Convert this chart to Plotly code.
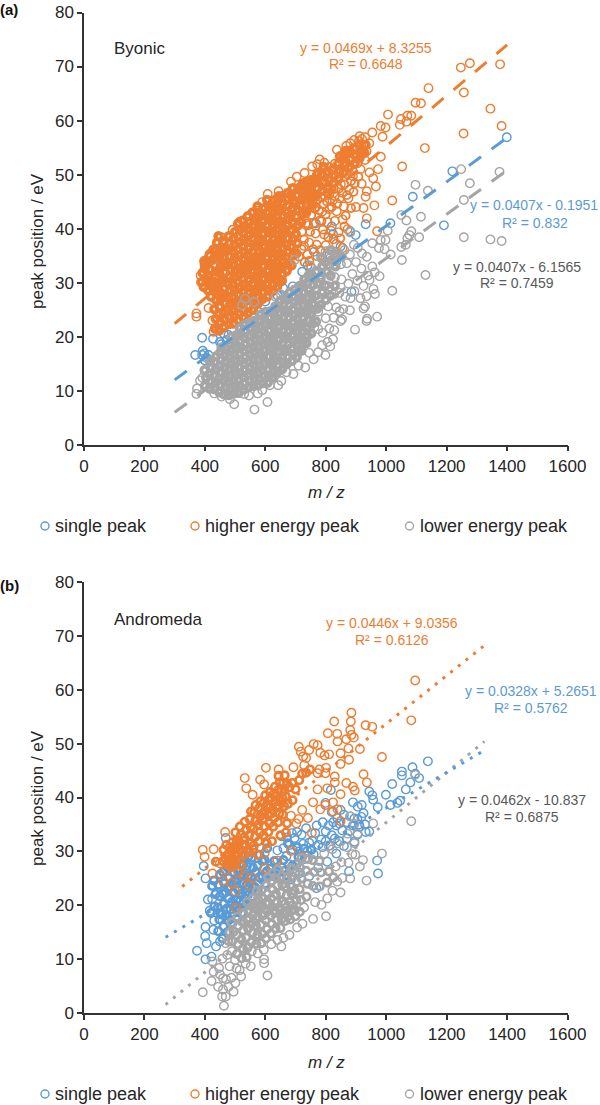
import plotly.graph_objects as go

BLUE, ORANGE, GREY = "#5B9BD5", "#ED7D31", "#A5A5A5"

# ---------- panel (a) Byonic: (m/z, eV) ----------
a_single = [(368,16.6),(391,19.8),(427,19.6),(393,17.4),(391,16.6),(406,16.1),(400,15.6),(412,16.6),(398,16.9),(450,19),(462,20.6),(478,20.3),(455,18.6),(463,18.1),(472,19.4),(885,28.3),(577,24.6),(1399,56.9),(1219,50.6),(1088,45.9),(1191,40.6),(1014,41),(932,40.8),(881,39.5),(899,38.8),(767,41),(820,40.4),(824,39),(849,36.7),(761,35.7),(812,35.2),(722,32),(653,30.2),(691,29.3),(659,29),(558,22.4),(740,33.2),(790,34.4),(835,33.9),(530,21.3),(600,26.5),(640,27.6)]

a_higher_sparse = [(1277,70.6),(1247,69.8),(1377,70.4),(1257,65.2),(1140,66),(1097,63.3),(1115,63.2),(1345,62.2),(1006,61.1),(1049,60.3),(1070,60.9),(1083,60.9),(1067,59.8),(1045,59.2),(982,59),(998,58.7),(988,57),(1382,59),(1256,57.6),(954,57.8),(1128,54.9),(982,53.3),(1053,51.5),(973,51),(945,50.4),(957,49.3),(919,48.3),(966,47.8),(936,46.9),(932,45.9),(875,45.6),(1020,45.2),(961,44.3),(900,44),(925,43.8),(936,41.9),(970,39.5),
(837,54.6),(881,55.8),(912,57.1),(930,56.9),(944,55.8),(894,56.4),(868,55.3),(918,53.9),(905,55.1),(925,55.4),(935,54.3),(890,54.8),(910,56.2),(920,56.6),(780,52.8),(755,51.5),(704,49.6),(685,48.7),(644,46.9),(608,46.4),(590,44.9),(574,43.3),(516,41.3),(492,39.8),(454,38.4),(457,36.4),(416,35.3),(399,33.4),(386,31.3),(422,29.3),(372,24.3),(372,23.7),(412,25.3),(425,23),(429,20.9),
(730,50.3),(772,51.9),(795,52.2),(812,51.4),(830,52),(850,53.1),(866,52.4),(885,52.8),(905,52.1),(930,52.7),(845,50.6),(868,50.1),(890,49.7),(915,51),(818,49.6),(795,50.2),(770,49.8),(752,49),(738,47.9),(776,47.6),(802,48.1),(826,47.3),(850,48.2),(878,47.2),(846,45.6),(822,45.1),(798,46.1),(772,45.3),(746,46.3),(812,43.6),(836,43.2),(860,44.1),(788,43.1),(762,43.7),(830,41.4),(806,41.2),(780,41.5),(856,41.7),(872,39.9),(842,39.3),(818,39.6),(795,38.9),(766,39.1),(742,40.6),(745,37.4),(770,37),(800,36.9),(835,37.2),(856,36.4),(740,35.2),(772,34.9),(812,33.5),(838,34.6),(752,32.8),(728,36.8),(720,39.4)]

a_higher_mid = [(728,38),(736,41),(748,39.4),(752,42.5),(760,41),(756,44.8),(768,44),(778,43.4),(786,41.4),(784,45.8),(792,44.5),(804,45),(800,42.6),(812,46.4),(820,44),(830,46),(838,44.6),(844,47.4),(856,46.6),(862,48.2),(870,46.2),(884,48.8),(896,48.4),(908,49.6),(720,36.2),(712,34.8),(730,33.8),(746,34),(758,36.2),(782,36),(790,39.8),(808,38.4),(826,38),(848,38.2),(866,42.4),(884,43.8),(892,46.8),(862,40.4)]

a_higher_dense = [(388,30.1),(392,31.8),(396,29.2),(400,32.6),(404,30.6),(398,34),(410,28.6),(412,31.1),(408,33.5),(415,35),(420,27.4),(422,30),(418,32.4),(425,34.2),(428,36.1),(440,37.4),(432,34.6),(436,36),(445,38.6),
(433,21.5),(436,23.3),(431,25.1),(437,26.8),(434,28.4),(430,30.2),(436,32.1),(447,21.1),(451,22.6),(446,24.2),(449,25.5),(452,27.1),(445,28.6),(450,30.1),(447,31.8),(453,33.2),(448,34.9),(451,36.2),
(463,21.8),(466,23.1),(461,24.6),(468,26.2),(462,27.4),(465,29),(460,30.3),(467,31.9),(464,33.4),(461,34.7),(466,36.1),(462,37.6),(479,22.3),(482,23.6),(477,24.9),(484,26.1),(478,27.3),(483,28.5),(476,29.8),(481,31.1),(485,32.3),(478,33.5),(483,34.8),(477,36),(482,37.3),(479,38.6),
(495,22.4),(498,23.8),(493,25),(500,26.2),(494,27.4),(499,28.6),(492,29.8),(497,31),(501,32.2),(494,33.4),(499,34.6),(493,35.8),(498,37),(495,38.2),(500,39.4),(511,23),(514,24.2),(509,25.4),(516,26.6),(510,27.8),(515,29),(508,30.2),(513,31.4),(517,32.6),(510,33.8),(515,35),(509,36.2),(514,37.4),(511,38.6),(516,39.8),(510,40.9),
(527,23.6),(530,24.8),(525,26),(532,27.2),(526,28.4),(531,29.6),(524,30.8),(529,32),(533,33.2),(526,34.4),(531,35.6),(525,36.8),(530,38),(527,39.2),(532,40.4),(526,41.5),(543,24.4),(546,25.6),(541,26.8),(548,28),(542,29.2),(547,30.4),(540,31.6),(545,32.8),(549,34),(542,35.2),(547,36.4),(541,37.6),(546,38.8),(543,40),(548,41.2),(542,42.3),
(559,25),(562,26.2),(557,27.4),(564,28.6),(558,29.8),(563,31),(556,32.2),(561,33.4),(565,34.6),(558,35.8),(563,37),(557,38.2),(562,39.4),(559,40.6),(564,41.8),(558,43),(575,26.1),(578,27.3),(573,28.5),(580,29.7),(574,30.9),(579,32.1),(572,33.3),(577,34.5),(581,35.7),(574,36.9),(579,38.1),(573,39.3),(578,40.5),(575,41.7),(580,42.9),(574,44.1),
(591,27),(594,28.2),(589,29.4),(596,30.6),(590,31.8),(595,33),(588,34.2),(593,35.4),(597,36.6),(590,37.8),(595,39),(589,40.2),(594,41.4),(591,42.6),(596,43.8),(607,27.4),(610,28.6),(605,29.8),(612,31),(606,32.2),(611,33.4),(604,34.6),(609,35.8),(613,37),(606,38.2),(611,39.4),(605,40.6),(610,41.8),(607,43),(612,44.2),(606,45.3),
(623,28.4),(626,29.6),(621,30.8),(628,32),(622,33.2),(627,34.4),(620,35.6),(625,36.8),(629,38),(622,39.2),(627,40.4),(621,41.6),(626,42.8),(623,44),(628,45.2),(639,29.2),(642,30.4),(637,31.6),(644,32.8),(638,34),(643,35.2),(636,36.4),(641,37.6),(645,38.8),(638,40),(643,41.2),(637,42.4),(642,43.6),(639,44.8),(644,46),
(655,30.4),(658,31.6),(653,32.8),(660,34),(654,35.2),(659,36.4),(652,37.6),(657,38.8),(661,40),(654,41.2),(659,42.4),(653,43.6),(658,44.8),(655,46),(671,32.2),(674,33.4),(669,34.6),(676,35.8),(670,37),(675,38.2),(668,39.4),(673,40.6),(677,41.8),(670,43),(675,44.2),(669,45.4),(674,46.6),
(687,33.2),(690,35),(685,36.6),(692,38.1),(686,39.6),(691,41),(684,42.4),(689,43.7),(693,45),(686,46.3),(691,47.5),(703,35.4),(706,37.3),(701,39),(708,40.6),(702,42.2),(707,43.5),(700,44.9),(705,46.2),(709,47.5),(719,41.2),(722,42.8),(717,44.2),(724,45.6),(718,47),(723,48.3),(735,42.9),(738,44.4),(733,45.8),(740,47.1),(734,48.6),
(752,44.4),(756,46),(751,47.5),(757,49),(768,46),(772,47.4),(767,48.8),(773,50.2),(788,47),(792,48.6),(787,50),(793,51.4),(808,47.4),(812,49),(807,50.4),(825,48.4),(829,49.8),(824,51),(842,49.2),(846,50.6),(841,52),(847,53.4),(860,50.4),(864,51.8),(859,53.2),(865,54.4),(878,51.4),(882,52.8),(877,54.2),(895,52),(899,53.4),(894,54.8),(912,53),(916,54.4),(911,55.6),(928,54),(932,55.5)]

a_lower_sparse = [(1375,50.5),(1248,51),(1097,48.1),(1138,47),(1277,48.4),(1257,45.3),(1050,42.5),(1067,41.5),(1115,42.2),(1257,38.4),(1345,38),(1382,37.7),(1130,31.4),(1052,34.2),(1050,36.6),(1065,37),(1083,39.5),(1077,38.8),(1070,38.2),(1109,38.4),(1005,39.6),(998,37.9),(982,37.9),(995,36.2),(1015,35.2),(976,36.4),(954,37.3),(881,39.3),(893,37),(1020,28.5),(963,27.9),(925,25.2),(970,23.7),(935,22.9),(937,23.3),(897,21.3),(849,22.9),(854,23.2),
(374,10.4),(372,9.4),(431,9.5),(483,8.4),(497,7.5),(564,6.5),(607,7.9),(643,11),(653,11.8),(693,13.1),(732,14.3),(760,15.8),(799,16.6),(824,19.5),(828,21.2),(384,11.9),(392,12.4),(455,8.9),(530,9.4),(546,9.1),(575,9.5),(590,10.1),(615,11),(670,13.4),(710,14.6),(745,17),(775,17.1),(788,18.4),(806,19),(815,18.2),(790,20.7),(812,21.5),(775,21.4),
(697,34.2),(533,27),(523,25.8),(564,26.4),(634,27.4),(652,27.8),(800,35.8),(826,33.3),(840,35.5),(862,36),(880,35.2),(906,36.4),(920,35.4),(936,34.8),(954,33),(962,31.9),(978,31.2),(900,33.8),(918,32.6),(940,31.3),(870,33.6),(850,33.4),(888,31.6),(905,30.4),(925,29.4),(945,30.5),(958,28.8),(830,31),(852,30.6),(875,29.8),(895,28.4),(915,27.1),(935,27.5),(930,25.6),(865,27.4),(882,27.1),(845,28.1),(828,27.9),(812,29.3),(808,25.6),(835,25.4),(858,25.1),(880,24.9),(790,27.8),(775,24.6),(800,23.4),(826,23.5),(846,24.7),(762,21.7),(780,30),(770,32.2),(748,33.2)]

a_lower_dense = [(400,10.9),(404,12.4),(399,13.8),(416,10.4),(420,11.7),(415,13),(421,14.3),(417,15.4),(432,10.3),(436,11.6),(431,12.8),(437,14),(433,15.2),(438,16.4),(448,9.7),(452,11),(447,12.2),(453,13.4),(449,14.6),(454,15.8),(450,17),(455,18),
(464,9.3),(468,10.6),(463,11.8),(469,13),(465,14.2),(470,15.4),(466,16.6),(471,17.8),(480,9.2),(484,10.4),(479,11.6),(485,12.8),(481,14),(486,15.2),(482,16.4),(487,17.6),(483,18.8),(488,20),(496,9.5),(500,10.7),(495,11.9),(501,13.1),(497,14.3),(502,15.5),(498,16.7),(503,17.9),(499,19.1),(504,20.3),
(512,9.6),(516,10.8),(511,12),(517,13.2),(513,14.4),(518,15.6),(514,16.8),(519,18),(515,19.2),(520,20.4),(516,21.6),(528,10.2),(532,11.4),(527,12.6),(533,13.8),(529,15),(534,16.2),(530,17.4),(535,18.6),(531,19.8),(536,21),(532,22.2),(544,10.6),(548,11.8),(543,13),(549,14.2),(545,15.4),(550,16.6),(546,17.8),(551,19),(547,20.2),(552,21.4),(548,22.6),
(560,10.9),(564,12.1),(559,13.3),(565,14.5),(561,15.7),(566,16.9),(562,18.1),(567,19.3),(563,20.5),(568,21.7),(564,22.9),(576,11),(580,12.2),(575,13.4),(581,14.6),(577,15.8),(582,17),(578,18.2),(583,19.4),(579,20.6),(584,21.8),(580,23),(585,24.1),(592,11.4),(596,12.6),(591,13.8),(597,15),(593,16.2),(598,17.4),(594,18.6),(599,19.8),(595,21),(600,22.2),(596,23.4),(601,24.6),
(608,11.5),(612,12.7),(607,13.9),(613,15.1),(609,16.3),(614,17.5),(610,18.7),(615,19.9),(611,21.1),(616,22.3),(612,23.5),(617,24.7),(624,12.4),(628,13.6),(623,14.8),(629,16),(625,17.2),(630,18.4),(626,19.6),(631,20.8),(627,22),(632,23.2),(628,24.4),(633,25.6),(640,13.4),(644,14.6),(639,15.8),(645,17),(641,18.2),(646,19.4),(642,20.6),(647,21.8),(643,23),(648,24.2),(644,25.4),(649,26.6),
(656,14),(660,15.2),(655,16.4),(661,17.6),(657,18.8),(662,20),(658,21.2),(663,22.4),(659,23.6),(664,24.8),(660,26),(665,27.2),(672,15),(676,16.2),(671,17.4),(677,18.6),(673,19.8),(678,21),(674,22.2),(679,23.4),(675,24.6),(680,25.8),(676,27),(681,28.2),(688,15.5),(692,16.7),(687,17.9),(693,19.1),(689,20.3),(694,21.5),(690,22.7),(695,23.9),(691,25.1),(696,26.3),(692,27.5),(697,28.7),
(704,16.2),(708,17.4),(703,18.6),(709,19.8),(705,21),(710,22.2),(706,23.4),(711,24.6),(707,25.8),(712,27),(708,28.2),(713,29.4),(720,17.4),(724,18.6),(719,19.8),(725,21),(721,22.2),(726,23.4),(722,24.6),(727,25.8),(723,27),(728,28.2),(724,29.4),(729,30.6),(736,18.8),(740,20.2),(735,21.6),(741,23),(737,24.4),(742,25.8),(738,27.2),(743,28.6),(739,30),(744,31.4),(752,20.6),(756,22.4),(751,24.2),(757,26),(753,27.8),(758,29.6),(754,31.4),(768,22.8),(772,25.2),(767,27.6),(773,29.8),(769,32),(784,25.9),(788,28.3),(783,30.8),(789,33),(785,34.6),(800,29.5),(804,32),(799,33.8),(816,31.3),(820,34.2),(815,36),(832,33),(836,35.2),(850,34.8),(800,26.8),(815,27.6),(830,29.4)]

# ---------- panel (b) Andromeda ----------
b_single_sparse = [(1138,46.7),(1087,45.6),(1052,44.8),(1052,44.1),(1096,44.4),(1109,43.6),(1080,42.8),(1020,42.5),(1065,41.5),(944,41.1),(954,40.4),(957,39.6),(999,40.5),(1046,39.4),(1037,39),(1014,38.6),(972,38.2),(890,39.1),(919,38.6),(906,38.3),(925,37.1),(849,37.7),(881,36.5),(817,41.4),(799,39),(970,28.3),(973,25.9),(877,26.3),(769,23.2),(944,33.7),(912,34.6),(374,11.6),(402,10),(422,10.5),(406,13),(401,14.3),(402,16),(437,12.4),(450,13.3),(428,15.5),(431,17.2),(416,19),(410,21.1),(424,21.2),(402,25),(396,27.3),(469,32.5),(653,32.8),(697,32.5),(735,34.3),
(930,35),(905,33.1),(890,34.8),(870,35.4),(855,33.9),(835,34.8),(820,33),(800,33.7),(785,32.2),(765,33.4),(745,31.6),(720,33.1),(690,30.4),(670,29.1),(700,27.5),(730,28.6),(760,29.5),(790,30.8),(815,31.1),(845,31.9),(870,32.4),(895,31.8),(835,29.6),(805,28.1),(775,27),(745,25.4),(715,26),(685,24.8),(655,26.9),(640,30.2),(620,27.4),(860,36.8),(838,36.2),(820,37.3),(895,36.1),(905,35.9),(918,36.4),(790,35.4),(770,34.8),
(660,30.6),(680,27.6),(680,31.2),(712,30),(725,31.4),(740,30),(755,32),(775,31.2),(810,34.8),(825,35.4),(845,35.2),(880,33.8),(910,35),(932,33.6),(800,31.9),(830,32.4),(860,31),(705,33.6),(688,33.4),(672,32.6)]

b_single_dense = [(420,18.6),(424,23.6),(431,19.8),(435,22.1),(430,24.6),(444,15.2),(448,17.4),(443,19.6),(449,21.7),(445,23.8),(450,25.7),(458,13.9),(462,16.1),(457,18.3),(463,20.3),(459,22.2),(464,24.1),(460,26.2),(474,15),(478,17.2),(473,19.4),(479,21.3),(475,23.2),(480,25.1),(476,27),(490,16.6),(494,18.6),(489,20.6),(495,22.4),(491,24.2),(496,26),(492,27.8),(506,17.4),(510,19.2),(505,21),(511,22.8),(507,24.6),(512,26.4),(508,28.2),(522,18.6),(526,20.4),(521,22.2),(527,24),(523,25.8),(528,27.6),(538,20.1),(542,21.9),(537,23.7),(543,25.5),(539,27.3),(544,29.1),(554,21.6),(558,23.4),(553,25.2),(559,27),(555,28.8),(560,30.4),(575,22.8),(580,25.2),(574,27.4),(581,29.4),(600,24),(605,26.3),(598,28.4),(606,30.6),(625,25.4),(630,28.2),(650,25),(660,28.4),(675,31.5),(705,30.8),
(452,18.6),(468,18.1),(484,19.2),(500,20),(516,20.8),(532,21.4),(468,22.4),(484,23.4),(500,24.8),(516,25.4),(550,24.2),(565,23.4),(568,26.2),(590,25.4),(590,28.2),(615,26.8),(640,26.2),(670,25.6),(690,27.4),(710,29),(728,30.5),(752,30.3)]

b_higher_sparse = [(1096,61.7),(1083,54.3),(885,55.7),(828,54.1),(932,53.4),(954,53.1),(883,54.1),(807,51.9),(838,51.8),(881,52.5),(885,51.6),(893,51.1),(839,50.4),(760,49.9),(773,49.7),(711,49.4),(717,48.5),(745,48.8),(868,50.8),(913,49),(875,49.1),(782,48.3),(796,47.8),(811,48),(849,48.2),(986,47.5),(725,47.6),(735,47.3),(877,47),(849,46.2),(729,46),(602,45.5),(644,45.2),(693,45.6),(532,43.6),(537,41.7),(583,43.3),(596,42.4),(779,45.2),(801,45.5),(773,44.5),(799,44.5),(830,43.9),(830,42.8),(925,44.3),(936,42.8),(868,42.7),(890,42),(896,41.3),(773,41.5),(805,41.7),(849,40.6),(758,39.1),(824,39.1),(799,38.6),(782,37.8),(839,37.8),(824,37.4),(722,37.7),(685,36.6),(710,36),(741,36.2),(849,35.6),(703,35.2),(558,40.5),(754,33.4),(467,33.6),(393,30.3),(429,30.4),(399,29),(598,29.7),(685,30.1),(640,28.3),(722,29),(598,26.9),(425,25.9),(460,24.6),(488,24.1),(501,22.6),(503,19.5),(546,23.8),(558,25.1),(530,25.4),(468,26.5),(450,27.8),(510,26.1)]

b_higher_dense = [(436,28.1),(460,28.2),(462,30.3),(473,27.6),(476,29.4),(471,31.2),(487,27.1),(490,28.7),(485,30.2),(491,31.7),(500,27.4),(504,29),(499,30.5),(505,32),(501,33.5),(515,28.6),(519,30.2),(514,31.7),(520,33.2),(516,34.6),(531,29.5),(535,31.1),(530,32.6),(536,34),(532,35.5),(547,29.9),(551,31.5),(546,33),(552,34.5),(548,36),(553,37.4),(562,31.1),(566,32.7),(561,34.2),(567,35.7),(563,37.2),(568,38.6),(578,31.9),(582,33.5),(577,35),(583,36.5),(579,38),(584,39.3),(594,33),(598,34.6),(593,36.1),(599,37.6),(595,39),(600,40.4),(610,33.6),(614,35.2),(609,36.7),(615,38.2),(611,39.6),(616,41),(626,34.6),(630,36.2),(625,37.7),(631,39.2),(627,40.6),(632,42),(642,35.4),(646,37),(641,38.5),(647,40),(643,41.4),(648,42.8),(644,44),(658,36.8),(662,38.4),(657,39.9),(663,41.3),(659,42.7),(664,44.1),(650,33),(622,31.9),(605,31.5),(672,35.2),(675,38.8),(680,41.9),(690,42.7),(700,41.5),(712,43.2),(722,44.4),(735,44.6),(748,45.2),(690,39.5),(668,33.5),(575,29.4),(520,27.4),
(468,28.6),(480,28.4),(482,30.8),(495,28.2),(494,30.6),(510,29.4),(510,31.2),(526,31),(540,30.2),(620,37),(636,38.1),(652,39.3),(636,40.4),(652,41.2),(668,40.2),(620,39.9),(605,38.3),(590,37),(672,42.6)]

b_lower_sparse = [(1083,35.6),(1096,44.2),(986,29.6),(935,24.6),(923,28.4),(913,27.2),(881,25),(849,22.4),(801,18),(723,16.6),(653,12.4),(607,7),(596,9.3),(596,10),(552,8.7),(520,6.8),(495,4),(463,1.4),(469,3.1),(457,3.1),(460,4.4),(444,4.9),(422,6),(393,3.9),(429,7.7),(425,9.6),(469,13),(501,5.6),(488,6.6),(482,8.7),(470,6.3),(478,4.9),(505,8.3),(515,8),(535,9.2),(447,8.4),(458,10.1),(474,10.8),(490,11.5),(500,9.9),(460,6.5),(450,7.2),(957,35.2),(881,36.5),(895,35.1),(872,33.3),(895,31.5),(905,33.3),(888,29.5),(870,30.8),(898,29.4),(875,27.9),(852,28),(833,27.2),(855,25.1),(838,24.4),(822,22.7),(805,21.3),(786,20.1),(765,20.6),(758,17.5),(728,19.6),(705,15.9),(680,14.5),(660,14),(640,13.6),(620,12.8),(595,11.8),(575,11.1),(555,11.5),(540,12),(810,31),(795,29.6),(822,30.4),(838,31.5)]

b_lower_dense = [(478,13.4),(482,15),(490,13.3),(495,15.1),(488,16.8),(506,11),(510,12.8),(505,14.5),(511,16.2),(507,17.9),(522,10.2),(526,12),(521,13.7),(527,15.4),(523,17),(528,18.6),(538,10.4),(542,12.3),(537,14),(543,15.7),(539,17.3),(544,19),(540,20.6),(554,13.2),(558,14.9),(553,16.5),(559,18.2),(555,19.8),(560,21.4),(570,12.9),(574,14.6),(569,16.3),(575,18),(571,19.6),(576,21.2),(572,22.7),(586,13),(590,14.7),(585,16.4),(591,18.1),(587,19.7),(592,21.3),(588,22.9),(602,13.9),(606,15.6),(601,17.3),(607,18.9),(603,20.5),(608,22.1),(604,23.7),(609,25.2),(618,14.8),(622,16.5),(617,18.1),(623,19.7),(619,21.3),(624,22.9),(620,24.5),(625,26),(634,15.7),(638,17.3),(633,18.9),(639,20.5),(635,22.1),(640,23.7),(636,25.2),(641,26.7),(650,15.8),(654,17.5),(649,19.1),(655,20.7),(651,22.3),(656,23.9),(652,25.4),(666,17.1),(670,18.7),(665,20.3),(671,21.9),(667,23.5),(672,25),(668,26.6),(682,17.4),(686,19),(681,20.6),(687,22.2),(683,23.8),(688,25.4),(684,26.9),(698,19.2),(702,21),(697,22.7),(703,24.4),(699,26),(704,27.6),(714,18.8),(718,21),(713,23),(719,25),(715,27),(720,28.8),(736,21.6),(740,24),(735,26.4),(741,28.6),(758,23.6),(762,26.2),(757,28.4),(780,23.5),(784,26.1),(779,28.2),(805,24.2),(810,26.3),(825,25.2),
(690,20),(700,18),(676,18),(662,18.4),(645,19.6),(628,19),(612,20.5),(596,19.4),(580,20),(564,19.6),(548,17.6)]

# ---------- trendlines: end points of each fitted line ----------
a_trend_mz = [300, 1400]
a_trend_higher = [22.4, 74.0]
a_trend_single = [12.0, 56.8]
a_trend_lower = [6.0, 50.8]
b_trend_higher_mz = [325, 1330]
b_trend_higher = [23.5, 68.4]
b_trend_single_mz = [270, 1330]
b_trend_single = [14.1, 48.9]
b_trend_lower_mz = [270, 1325]
b_trend_lower = [1.6, 50.4]

x_ticks = [0, 200, 400, 600, 800, 1000, 1200, 1400, 1600]
y_ticks = [0, 10, 20, 30, 40, 50, 60, 70, 80]
legend_labels = ["single peak", "higher energy peak", "lower energy peak"]

W, H = 600, 1105
FONT = "Liberation Sans"
TXT = "#262626"

def mark(pts, color, xa, ya, name, size=8.5, lw=1.4):
    return go.Scatter(x=[p[0] for p in pts], y=[p[1] for p in pts], mode="markers", name=name,
                      xaxis=xa, yaxis=ya, showlegend=False, hoverinfo="skip",
                      marker=dict(symbol="circle-open", size=size, color=color, line=dict(width=lw, color=color)))

def trend(xs, ys, color, dash, xa, ya):
    return go.Scatter(x=xs, y=ys, mode="lines", xaxis=xa, yaxis=ya, showlegend=False, hoverinfo="skip",
                      line=dict(color=color, width=3, dash=dash))

fig = go.Figure()
DASH, DOT = "15px,13px", "3px,6.8px"
for tr in [mark(a_single, BLUE, "x", "y", legend_labels[0]),
           mark(a_higher_sparse, ORANGE, "x", "y", legend_labels[1]),
           mark(a_higher_mid, ORANGE, "x", "y", legend_labels[1], 8, 1.8),
           mark(a_higher_dense, ORANGE, "x", "y", legend_labels[1], 6.5, 3.8),
           mark(a_lower_sparse, GREY, "x", "y", legend_labels[2]),
           mark(a_lower_dense, GREY, "x", "y", legend_labels[2], 6.5, 3.8),
           trend(a_trend_mz, a_trend_single, BLUE, DASH, "x", "y"),
           trend(a_trend_mz, a_trend_higher, ORANGE, DASH, "x", "y"),
           trend(a_trend_mz, a_trend_lower, GREY, DASH, "x", "y"),
           mark(b_single_sparse, BLUE, "x2", "y2", legend_labels[0]),
           mark(b_single_dense, BLUE, "x2", "y2", legend_labels[0], 7.5, 2.6),
           mark(b_higher_sparse, ORANGE, "x2", "y2", legend_labels[1]),
           mark(b_higher_dense, ORANGE, "x2", "y2", legend_labels[1], 7.5, 2.6),
           mark(b_lower_sparse, GREY, "x2", "y2", legend_labels[2]),
           mark(b_lower_dense, GREY, "x2", "y2", legend_labels[2], 7.5, 2.6),
           trend(b_trend_lower_mz, b_trend_lower, GREY, DOT, "x2", "y2"),
           trend(b_trend_single_mz, b_trend_single, BLUE, DOT, "x2", "y2"),
           trend(b_trend_higher_mz, b_trend_higher, ORANGE, DOT, "x2", "y2")]:
    fig.add_trace(tr)

def py(p):
    return 1 - p / H
def px(p):
    return p / W

X0, X1 = 84, 567.5
axis = dict(showgrid=False, zeroline=False, showline=True, linecolor="#333333", linewidth=1.5,
            ticks="outside", ticklen=5, tickwidth=1.5, tickcolor="#333333", automargin=False,
            tickfont=dict(family=FONT, size=17, color=TXT))
fig.update_layout(width=W, height=H, margin=dict(l=0, r=0, t=0, b=0, pad=0, autoexpand=False),
                  paper_bgcolor="white", plot_bgcolor="white",
                  font=dict(family=FONT, color=TXT), showlegend=False)
fig.update_layout(
    xaxis=dict(axis, domain=[px(X0), px(X1)], range=[0, 1600], tickvals=x_ticks, anchor="y"),
    yaxis=dict(axis, domain=[py(444.7), py(12.5)], range=[0, 80], tickvals=y_ticks, anchor="x"),
    xaxis2=dict(axis, domain=[px(X0), px(X1)], range=[0, 1600], tickvals=x_ticks, anchor="y2"),
    yaxis2=dict(axis, domain=[py(1013.3), py(581.7)], range=[0, 80], tickvals=y_ticks, anchor="x2"),
)

def text(x, y, s, color=TXT, size=14, anchor="center", angle=0):
    fig.add_annotation(xref="paper", yref="paper", x=px(x), y=py(y), text=s, showarrow=False,
                       xanchor=anchor, yanchor="middle", textangle=angle, borderpad=0, borderwidth=0,
                       font=dict(family=FONT, size=size, color=color))

text(0, 10, "<b>(a)</b>", "#111111", 15, "left")
text(0, 585, "<b>(b)</b>", "#111111", 15, "left")
text(113.7, 49, "Byonic", TXT, 17, "left")
text(113.7, 619, "Andromeda", TXT, 17, "left")

text(366, 47.7, "y = 0.0469x + 8.3255", ORANGE)
text(366, 64, "R² = 0.6648", ORANGE)
text(534, 205, "y = 0.0407x - 0.1951", BLUE)
text(535, 222.7, "R² = 0.832", BLUE)
text(516.6, 266.7, "y = 0.0407x - 6.1565", "#595959")
text(516.6, 283, "R² = 0.7459", "#595959")
text(392, 623, "y = 0.0446x + 9.0356", ORANGE)
text(392, 640, "R² = 0.6126", ORANGE)
text(531, 691, "y = 0.0328x + 5.2651", BLUE)
text(531, 708, "R² = 0.5762", BLUE)
text(522, 800, "y = 0.0462x - 10.837", "#595959")
text(522, 817, "R² = 0.6875", "#595959")

for cy, ly, lab_y in [(241, 493, 526), (798, 1062, 1094)]:
    text(37, cy, "peak position / eV", TXT, 17, "center", -90)
    text(326, ly, "<i>m / z</i>", TXT, 17)
    for cx, tx, lab, col in zip([45, 195, 409.5], [55, 205, 420], legend_labels, [BLUE, ORANGE, GREY]):
        fig.add_shape(type="circle", xref="paper", yref="paper", x0=px(cx - 4), x1=px(cx + 4),
                      y0=py(lab_y + 4), y1=py(lab_y - 4), line=dict(color=col, width=1.4))
        text(tx, lab_y, lab, TXT, 18, "left")

fig.write_html("out.html", config={"displayModeBar": False},
               post_script="document.documentElement.style.overflow='hidden';document.body.style.margin='0';")
